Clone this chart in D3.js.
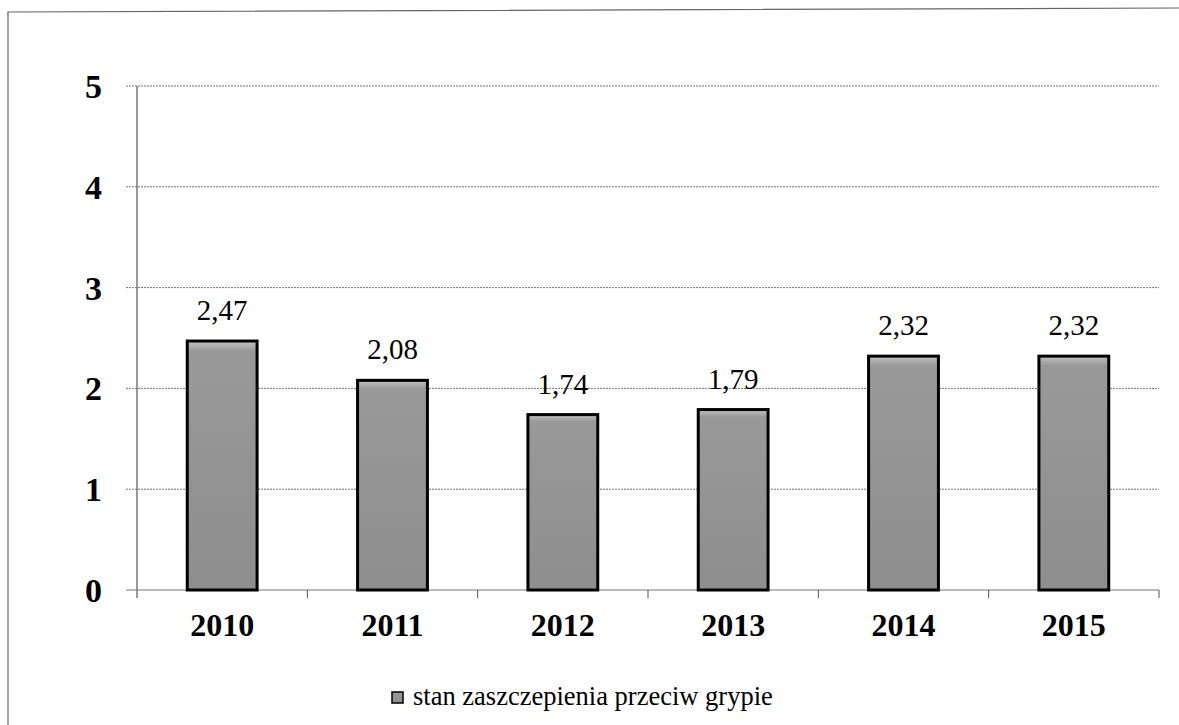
<!DOCTYPE html>
<html>
<head>
<meta charset="utf-8">
<script src="https://cdn.jsdelivr.net/npm/d3@7"></script>
<style>
  body { margin: 0; background: #fff; }
  svg { display: block; }
</style>
</head>
<body>
<svg id="chart" width="1179" height="725" font-family="Liberation Serif, Times New Roman, serif"></svg>
<script>
// data
const years = ['2010', '2011', '2012', '2013', '2014', '2015'];
const values = [2.47, 2.08, 1.74, 1.79, 2.32, 2.32];
const yTicks = [0, 1, 2, 3, 4, 5];
const seriesName = 'stan zaszczepienia przeciw grypie';

const serif = 'Liberation Serif, Times New Roman, serif';
const svg = d3.select('#chart');
const margin = { top: 86, left: 137, right: 20, bottom: 135 };
const width = 1159 - margin.left;
const height = 590 - margin.top;

// outer frame (only top and left visible)
svg.append('path')
  .attr('d', 'M8,725 L8,12 L1179,8')
  .attr('fill', 'none')
  .attr('stroke', '#666')
  .attr('stroke-width', 1.2);

const defs = svg.append('defs');
const grad = defs.append('linearGradient')
  .attr('id', 'barFill').attr('x1', 0).attr('y1', 0).attr('x2', 0).attr('y2', 1);
grad.append('stop').attr('offset', '0%').attr('stop-color', '#c4c4c4');
grad.append('stop').attr('offset', '4%').attr('stop-color', '#999');
grad.append('stop').attr('offset', '100%').attr('stop-color', '#8e8e8e');

const g = svg.append('g').attr('transform', `translate(${margin.left},${margin.top})`);

const x = d3.scaleBand().domain(years).range([0, width]).paddingInner(0.59).paddingOuter(0.295);
const y = d3.scaleLinear().domain([0, 5]).range([height, 0]);

// gridlines
g.append('g')
  .selectAll('line')
  .data(yTicks)
  .enter()
  .append('line')
  .attr('x1', -11)
  .attr('x2', width)
  .attr('y1', d => y(d))
  .attr('y2', d => y(d))
  .attr('stroke', '#777')
  .attr('stroke-width', 1)
  .attr('stroke-dasharray', d => d === 0 ? null : '2,1');

// y axis
const yAxis = d3.axisLeft(y).tickValues(yTicks).tickSize(0).tickPadding(35).tickFormat(d3.format('d'));
const yg = g.append('g').call(yAxis).attr('font-family', serif);
yg.select('.domain').remove();
yg.selectAll('text')
  .attr('font-size', 34)
  .attr('font-weight', 'bold')
  .attr('fill', '#000')
  .attr('dy', '0.34em');
g.append('line')
  .attr('x1', 0).attr('x2', 0)
  .attr('y1', 0).attr('y2', height + 8)
  .attr('stroke', '#777').attr('stroke-width', 1.5);

// x axis tick marks at category boundaries
const step = x.step();
g.append('g')
  .selectAll('line')
  .data(years.slice(1).concat(['end']))
  .enter()
  .append('line')
  .attr('x1', (d, i) => (i + 1) * step)
  .attr('x2', (d, i) => (i + 1) * step)
  .attr('y1', height)
  .attr('y2', height + 8)
  .attr('stroke', '#555');

// x labels
g.append('g')
  .selectAll('text')
  .data(years)
  .enter()
  .append('text')
  .attr('x', d => x(d) + x.bandwidth() / 2)
  .attr('y', height + 46)
  .attr('text-anchor', 'middle')
  .attr('font-family', serif)
  .attr('font-size', 32)
  .attr('font-weight', 'bold')
  .text(d => d);

// bars
g.append('g')
  .selectAll('rect')
  .data(values)
  .enter()
  .append('rect')
  .attr('x', (d, i) => x(years[i]))
  .attr('y', d => y(d))
  .attr('width', x.bandwidth())
  .attr('height', d => height - y(d))
  .attr('fill', 'url(#barFill)')
  .attr('stroke', '#000')
  .attr('stroke-width', 3);

// value labels
g.append('g')
  .selectAll('text')
  .data(values)
  .enter()
  .append('text')
  .attr('x', (d, i) => x(years[i]) + x.bandwidth() / 2)
  .attr('y', d => y(d) - 21)
  .attr('text-anchor', 'middle')
  .attr('font-family', serif)
  .attr('font-size', 29)
  .text(d => d.toFixed(2).replace('.', ','));

// legend
const lg = svg.append('g').attr('transform', 'translate(392,692)');
lg.append('rect')
  .attr('width', 11).attr('height', 11)
  .attr('fill', 'url(#barFill)')
  .attr('stroke', '#000').attr('stroke-width', 1.5);
lg.append('text')
  .attr('x', 21)
  .attr('y', 13)
  .attr('font-family', serif)
  .attr('font-size', 26.5)
  .text(seriesName);
</script>
</body>
</html>
